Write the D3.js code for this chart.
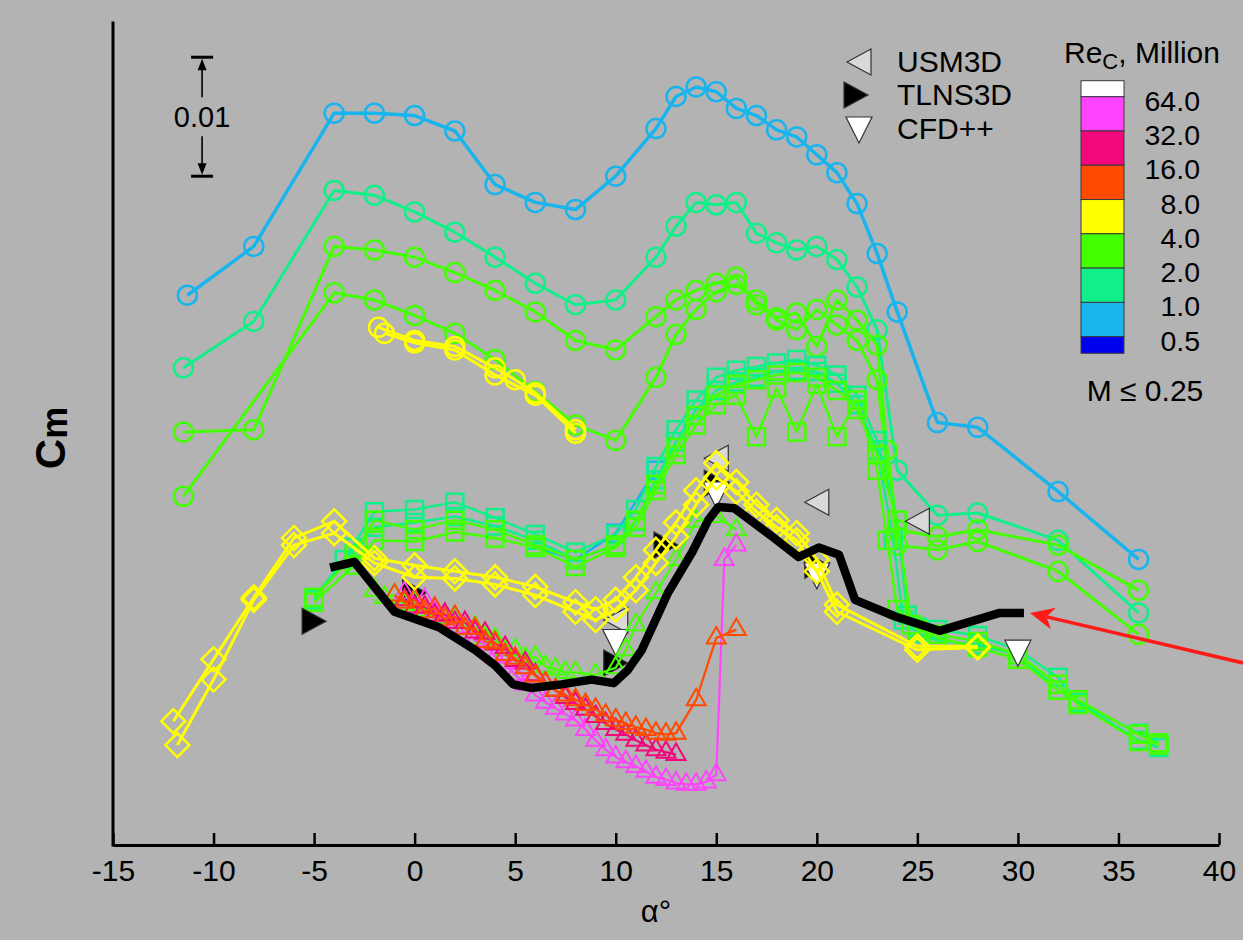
<!DOCTYPE html>
<html><head><meta charset="utf-8">
<script src="https://cdn.jsdelivr.net/npm/d3@7"></script>
<style>
body{margin:0;background:#b3b3b3;}
svg{display:block;font-family:"Liberation Sans",Arial,Helvetica,sans-serif;}
</style>
</head><body>
<svg id="c" width="1243" height="940"></svg>
<script>
// ---------------- DATA ----------------
const alphaTicks = [-15,-10,-5,0,5,10,15,20,25,30,35,40];
const reLabels = ["64.0","32.0","16.0","8.0","4.0","2.0","1.0","0.5"];
const reColors = ["#ffffff","#ff44ff","#f2087c","#ff4a00","#ffff00","#44ff00","#10f088","#18b4ee","#0000f0"];
const scaleBarCm = 0.01;
const scaleBarTop = 0.0662;

// wind tunnel, circles
const circleRe1 = [[-11.3,.0462],[-8,.0503],[-4,.0615],[-2,.0615],[0,.0613],[2,.0600],[4,.0555],[6,.0540],[8,.0534],[10,.0562],[12,.0602],[13,.0629],[14,.0637],[15,.0633],[16,.0619],[17,.0613],[18,.0601],[19,.0595],[20,.0580],[21,.0565],[22,.0539],[23,.0497],[24,.0448],[26,.0355],[28,.0351],[32,.0297],[36,.0240]];
const circleRe2 = [[-11.5,.0401],[-8,.0440],[-4,.0550],[-2,.0546],[0,.0532],[2,.0515],[4,.0494],[6,.0472],[8,.0454],[10,.0458],[12,.0494],[13,.0520],[14,.0540],[15,.0538],[16,.0540],[17,.0514],[18,.0506],[19,.0500],[20,.0503],[21,.0492],[22,.0469],[23,.0433],[24,.0315],[26,.0277],[28,.0279],[32,.0256],[36,.0195]];
const circleRe4a = [[-11.5,.0347],[-8,.0349],[-4,.0503],[-2,.0500],[0,.0494],[2,.0481],[4,.0466],[6,.0448],[8,.0424],[10,.0416],[12,.0444],[13,.0458],[14,.0466],[15,.0472],[16,.0477],[17,.0454],[18,.0443],[19,.0447],[20,.0419],[21,.0458],[22,.0441],[23,.0420],[23.5,.0332],[24,.0265],[26,.0259],[28,.0265],[32,.0252],[36,.0214]];
const circleRe4b = [[-11.5,.0293],[-4,.0464],[-2,.0458],[0,.0445],[2,.0430],[4,.0408],[6,.0381],[8,.0353],[10,.0340],[12,.0393],[13,.0429],[14,.0450],[15,.0465],[16,.0471],[17,.0458],[18,.0441],[19,.0433],[20,.0450],[21,.0437],[22,.0424],[23,.0391],[24,.0252],[26,.0248],[28,.0255],[32,.0230],[36,.0177]];
const circleRe8a = [[-1.8,.0435],[0,.0424],[2,.0419],[4,.0401],[5,.0391],[6,.0380],[8,.0349]];
const circleRe8b = [[-1.5,.0430],[0,.0422],[2,.0416],[4,.0395],[6,.0378],[8,.0346]];

// squares
const squareRe1 = [[6,.0250],[8,.0240],[10,.0262],[12,.0315]];
const squareRe2a = [[-5,.0208],[-3.5,.0240],[-2,.0280],[0,.0282],[2,.0288],[4,.0275],[6,.0261],[8,.0246],[10,.0261],[11,.0282],[12,.0318],[13,.0349],[14,.0374],[15,.0393],[16,.0399],[17,.0402],[18,.0405],[19,.0408],[20,.0403],[21,.0395],[22,.0378],[23,.0340],[24,.0273],[24.5,.0193],[25,.0183],[26,.0181],[28,.0176],[30,.0164],[32,.0141],[33,.0120],[36,.0094],[37,.0086]];
const squareRe2b = [[-5,.0206],[-3,.0250],[-2,.0267],[0,.0271],[2,.0276],[4,.0268],[6,.0256],[8,.0240],[10,.0252],[11,.0272],[12,.0307],[13,.0339],[14,.0366],[15,.0382],[16,.0389],[17,.0393],[18,.0398],[19,.0399],[20,.0398],[21,.0388],[22,.0370],[23,.0332],[23.8,.0256],[24.3,.0189],[25,.0178],[26,.0172],[28,.0168],[30,.0160],[32,.0130],[36,.0088],[37,.0082]];
const squareRe4a = [[-5,.0204],[-3,.0235],[-2,.0256],[0,.0255],[2,.0263],[4,.0258],[6,.0250],[8,.0234],[10,.0250],[11,.0267],[12,.0298],[13,.0328],[14,.0353],[15,.0370],[16,.0378],[17,.0343],[18,.0384],[19,.0347],[20,.0387],[21,.0343],[22,.0374],[23,.0315],[23.5,.0256],[24,.0198],[25,.0181],[26,.0177],[28,.0171],[30,.0160],[32,.0135],[33,.0118],[36,.0087],[37,.0086]];
const squareRe4b = [[-5,.0208],[-3,.0244],[-2,.0273],[0,.0265],[2,.0273],[4,.0265],[6,.0252],[8,.0240],[10,.0252],[11,.0273],[12,.0303],[13,.0334],[14,.0361],[15,.0378],[16,.0387],[17,.0391],[18,.0395],[19,.0397],[20,.0393],[21,.0382],[22,.0366],[23,.0328],[24,.0273],[24.7,.0185],[26,.0174],[28,.0166],[30,.0156],[32,.0130],[33,.0122],[36,.0093],[37,.0084]];

// diamonds
const diamondRe8a = [[-12,.0104],[-10,.0156],[-8,.0208],[-6,.0258],[-4,.0272],[-2,.0241],[0,.0235],[2,.0230],[4,.0225],[6,.0217],[8,.0204],[9,.0198],[10,.0206],[11,.0225],[12,.0248],[13,.0271],[14,.0298],[15,.0321],[16,.0305],[17,.0286],[18,.0273],[19,.0262],[20,.0240],[21,.0202],[25,.0167],[28,.0167]];
const diamondRe8b = [[-11.8,.0084],[-10,.0139],[-8,.0206],[-6,.0252],[-4,.0262],[-2,.0237],[0,.0225],[2,.0224],[4,.0219],[6,.0210],[8,.0196],[9,.0189],[10,.0198],[11,.0214],[12,.0237],[13,.0259],[14,.0286],[15,.0309],[16,.0297],[17,.0280],[18,.0267],[19,.0256],[20,.0230],[21,.0196],[25,.0164],[28,.0166]];

// triangles (high Re)
const triRe4 = [[-2,.0214],[-1.5,.0208],[-1,.0210],[-0.5,.0202],[0,.0204],[0.5,.0197],[1,.0198],[1.5,.0191],[2,.0191],[2.5,.0183],[3,.0183],[3.5,.0174],[4,.0173],[4.5,.0164],[5,.0164],[5.5,.0157],[6,.0158],[6.5,.0150],[7,.0148],[7.5,.0145],[8,.0145],[9,.0143],[10,.0149],[10.5,.0164],[11,.0185],[12,.0212],[13,.0240],[14,.0272],[15,.0276],[16,.0265]];
const triRe64 = [[-0.5,.0212],[0,.0206],[0.5,.0206],[1,.0196],[1.5,.0193],[2,.0183],[2.5,.0183],[3,.0172],[3.5,.0170],[4,.0158],[4.5,.0153],[5,.0143],[5.5,.0135],[6,.0126],[6.5,.0120],[7,.0115],[7.5,.0110],[8,.0105],[8.5,.0097],[9,.0088],[9.5,.0080],[10,.0074],[10.5,.0070],[11,.0066],[11.5,.0062],[12,.0057],[12.5,.0055],[13,.0052],[13.5,.0051],[14,.0051],[14.5,.0053],[15,.0059],[15.4,.0240],[16,.0252]];
const triRe32 = [[-0.5,.0206],[0,.0200],[0.5,.0200],[1,.0193],[1.5,.0194],[2,.0187],[2.5,.0187],[3,.0179],[3.5,.0178],[4,.0169],[4.5,.0166],[5,.0155],[5.5,.0153],[6,.0143],[6.5,.0136],[7,.0130],[7.5,.0124],[8,.0119],[8.5,.0114],[9,.0108],[9.5,.0102],[10,.0097],[10.5,.0093],[11,.0088],[11.5,.0084],[12,.0080],[12.5,.0078],[13,.0076]];
const triRe16 = [[-1,.0210],[-0.5,.0204],[0,.0206],[0.5,.0196],[1,.0199],[1.5,.0190],[2,.0192],[2.5,.0182],[3,.0182],[3.5,.0171],[4,.0170],[4.5,.0160],[5,.0157],[5.5,.0149],[6,.0142],[6.5,.0136],[7,.0130],[7.5,.0126],[8,.0122],[8.5,.0118],[9,.0114],[9.5,.0109],[10,.0105],[10.5,.0102],[11,.0099],[11.5,.0097],[12,.0094],[12.5,.0093],[13,.0094],[14,.0122],[15,.0174],[16,.0181]];

// thick black curve
const blackCurve = [[-4.2,.0233],[-3,.0238],[-1,.0196],[1.2,.0183],[3,.0164],[4,.0151],[4.9,.0135],[5.8,.0132],[7.3,.0135],[8.8,.0139],[9.9,.0136],[10.6,.0147],[11.3,.0164],[12.6,.0212],[13.8,.0246],[14.6,.0273],[15.1,.0284],[15.9,.0283],[17.8,.0259],[19.1,.0242],[20.1,.0250],[21.1,.0244],[21.9,.0206],[23.9,.0192],[26.1,.0180],[29.1,.0195],[30.3,.0195]];

// CFD results
const usm3d = [[10,.0189],[15,.0325],[20,.0288],[25,.0272]];
const tlns3d = [[-5,.0188],[0,.0212],[10,.0153],[12.5,.0252],[15,.0304],[20,.0235]];
const cfdpp = [[10,.0171],[15,.0295],[20,.0227],[30,.0162]];

// red arrow annotation: tail -> tip
const arrowTail = [41.2,.0153];
const arrowTip = [30.6,.0195];

// ---------------- CHART ----------------
const W=1243,H=940;
const svg=d3.select("#c");
svg.append("rect").attr("width",W).attr("height",H).attr("fill","#b3b3b3");

const x=d3.scaleLinear().domain([-15,40]).range([113,1219]);
const y=d3.scaleLinear().domain([0,0.0692]).range([845,845-0.0692*11900]);

const col={r64:reColors[1],r32:reColors[2],r16:reColors[3],r8:reColors[4],r4:reColors[5],r2:reColors[6],r1:reColors[7]};

const mk={
  circle:"M9.5,0A9.5,9.5 0 1,1 -9.5,0A9.5,9.5 0 1,1 9.5,0Z",
  square:"M-8.5,-8.5H8.5V8.5H-8.5Z",
  diamond:"M0,-12L12,0L0,12L-12,0Z",
  tri:"M0,-11L9.5,5.5L-9.5,5.5Z"
};
const cfdMk={
  left:"M-12,0L12,-13L12,13Z",
  right:"M12,0L-12,-13L-12,13Z",
  down:"M-13,-12L13,-12L0,14Z"
};

const line=d3.line().x(d=>x(d[0])).y(d=>y(d[1]));
const plot=svg.append("g");

function series(data,color,marker,lw,mw){
  const g=plot.append("g");
  g.append("path").attr("d",line(data)).attr("fill","none")
    .attr("stroke",color).attr("stroke-width",lw).attr("stroke-linejoin","round");
  g.selectAll("path.m").data(data).join("path").attr("class","m")
    .attr("transform",d=>`translate(${x(d[0])},${y(d[1])})`)
    .attr("d",mk[marker]).attr("fill","none").attr("stroke",color).attr("stroke-width",mw);
}
function cfd(data,shape,fill){
  plot.append("g").selectAll("path").data(data).join("path")
    .attr("transform",d=>`translate(${x(d[0])},${y(d[1])})`)
    .attr("d",cfdMk[shape]).attr("fill",fill).attr("stroke","#333").attr("stroke-width",1.2);
}

// circles
series(circleRe1,col.r1,"circle",3.5,2.5);
series(circleRe2,col.r2,"circle",3,2.5);
series(circleRe4a,col.r4,"circle",3,2.5);
series(circleRe4b,col.r4,"circle",3,2.5);
series(circleRe8a,col.r8,"circle",3,2.5);
series(circleRe8b,col.r8,"circle",3,2.5);
// squares
series(squareRe1,col.r1,"square",2.5,2.5);
series(squareRe2a,col.r2,"square",2.5,2.5);
series(squareRe2b,col.r2,"square",2.5,2.5);
series(squareRe4a,col.r4,"square",2.5,2.5);
series(squareRe4b,col.r4,"square",2.5,2.5);
// CFD markers (underneath the remaining test data)
cfd(usm3d,"left","#d9d9d9");
cfd(tlns3d,"right","#000");
cfd(cfdpp,"down","#fff");
// triangles
series(triRe4,col.r4,"tri",2.2,2);
series(triRe64,col.r64,"tri",2.2,2);
series(triRe32,col.r32,"tri",2.2,2);
series(triRe16,col.r16,"tri",2.2,2);
// diamonds
series(diamondRe8a,col.r8,"diamond",3,2.5);
series(diamondRe8b,col.r8,"diamond",3,2.5);
// black curve
plot.append("path").attr("d",line(blackCurve)).attr("fill","none").attr("stroke","#000")
  .attr("stroke-width",8.5).attr("stroke-linejoin","round");

// red arrow
{
  const tx=x(arrowTip[0]),ty=y(arrowTip[1]),sx=x(arrowTail[0]),sy=y(arrowTail[1]);
  const ang=Math.atan2(ty-sy,tx-sx);
  const g=svg.append("g").attr("transform",`translate(${tx},${ty}) rotate(${ang*180/Math.PI})`);
  const len=Math.hypot(tx-sx,ty-sy);
  g.append("line").attr("x1",-len).attr("y1",0).attr("x2",-14).attr("y2",0).attr("stroke","#ff1a1a").attr("stroke-width",3.5);
  g.append("path").attr("d","M0,0L-24,-11L-17,0L-24,11Z").attr("fill","#ff1a1a");
}

// axes
const xAxis=d3.axisBottom(x).tickValues(alphaTicks).tickSize(-12).tickSizeOuter(0).tickPadding(15).tickFormat(d=>String(d));
const gx=svg.append("g").attr("transform",`translate(0,${y(0)})`).call(xAxis);
gx.select(".domain").attr("stroke","#000").attr("stroke-width",3);
gx.selectAll(".tick line").attr("stroke","#000").attr("stroke-width",2.5);
gx.selectAll(".tick text").attr("fill","#000").style("font-size","30px").style("font-family","'Liberation Sans',Arial,sans-serif");
svg.append("line").attr("x1",x(-15)).attr("x2",x(-15)).attr("y1",y(0)+1.5).attr("y2",y.range()[1])
  .attr("stroke","#000").attr("stroke-width",3);

svg.append("text").attr("x",x(12)).attr("y",922).attr("text-anchor","middle")
  .style("font-size","31px").text("α°");

// Cm label
const cm=svg.append("text").attr("transform","translate(65,438) rotate(-90)").attr("text-anchor","middle")
  .style("font-weight","bold");
cm.append("tspan").style("font-size","42px").text("C");
cm.append("tspan").style("font-size","36px").attr("dy",2).text("m");

// scale bar
{
  const bx=x(-10.57), yt=y(scaleBarTop), yb=y(scaleBarTop-scaleBarCm);
  const g=svg.append("g");
  g.append("line").attr("x1",bx-11).attr("x2",bx+11).attr("y1",yt).attr("y2",yt).attr("stroke","#000").attr("stroke-width",3);
  g.append("line").attr("x1",bx-11).attr("x2",bx+11).attr("y1",yb).attr("y2",yb).attr("stroke","#000").attr("stroke-width",3);
  g.append("line").attr("x1",bx).attr("x2",bx).attr("y1",yt+8).attr("y2",yt+40).attr("stroke","#000").attr("stroke-width",1.6);
  g.append("line").attr("x1",bx).attr("x2",bx).attr("y1",yb-40).attr("y2",yb-8).attr("stroke","#000").attr("stroke-width",1.6);
  g.append("path").attr("d",`M${bx},${yt+1.5}L${bx-4.5},${yt+13}L${bx+4.5},${yt+13}Z`).attr("fill","#000");
  g.append("path").attr("d",`M${bx},${yb-1.5}L${bx-4.5},${yb-13}L${bx+4.5},${yb-13}Z`).attr("fill","#000");
  g.append("text").attr("x",bx).attr("y",(yt+yb)/2+10).attr("text-anchor","middle").style("font-size","29px").text("0.01");
}

// legend (CFD codes)
const legItems=[["USM3D","left","#d9d9d9",62],["TLNS3D","right","#000",95],["CFD++","down","#fff",129]];
legItems.forEach(([t,s,f,yy])=>{
  svg.append("path").attr("transform",`translate(${s==="right"?856:859},${yy})`).attr("d",cfdMk[s])
    .attr("fill",f).attr("stroke","#333").attr("stroke-width",1.2);
  svg.append("text").attr("x",897).attr("y",yy+10).style("font-size","30px").text(t);
});

// colour bar
{
  const bx=1081,bw=43,b0=96.7,step=34.28,half=16;
  const edges=[b0-half];
  for(let i=0;i<reLabels.length;i++) edges.push(b0+i*step);
  edges.push(b0+(reLabels.length-1)*step+half+0.6);
  const g=svg.append("g");
  reColors.forEach((c,i)=>{
    g.append("rect").attr("x",bx).attr("y",edges[i]).attr("width",bw).attr("height",edges[i+1]-edges[i])
      .attr("fill",c).attr("stroke","#3a3a3a").attr("stroke-width",1);
  });
  reLabels.forEach((l,i)=>{
    g.append("text").attr("x",1200).attr("y",b0+i*step+14).attr("text-anchor","end").style("font-size","28.5px").text(l);
  });
  const tt=g.append("text").attr("x",1064).attr("y",63).style("font-size","30px");
  tt.append("tspan").text("Re");
  tt.append("tspan").attr("dy",6).style("font-size","22px").text("C");
  tt.append("tspan").attr("dy",-6).text(", Million");
  g.append("text").attr("x",1145).attr("y",401).attr("text-anchor","middle").style("font-size","30px").text("M ≤ 0.25");
}
</script>
</body></html>
